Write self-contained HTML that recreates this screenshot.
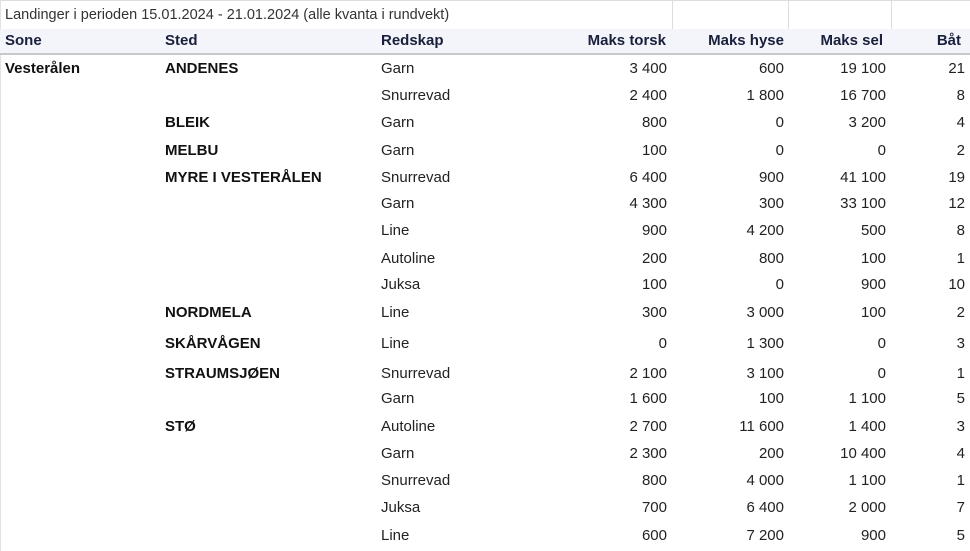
<!DOCTYPE html>
<html><head><meta charset="utf-8"><style>
html,body{margin:0;padding:0;background:#fff;}
body{width:970px;height:551px;position:relative;overflow:hidden;font-family:"Liberation Sans",sans-serif;color:#222;}
.t{position:absolute;white-space:nowrap;font-size:15px;line-height:18px;}
.r{text-align:right;}
.b{font-weight:bold;color:#111;}
.h{font-weight:bold;color:#1a1f3c;}
</style></head><body>
<div style="position:absolute;left:0;top:0;width:970px;height:1px;background:#ddd"></div>
<div style="position:absolute;left:0;top:0;width:1px;height:551px;background:#e2e2e2"></div>
<div style="position:absolute;left:672px;top:0;width:1px;height:29px;background:#ddd"></div>
<div style="position:absolute;left:788px;top:0;width:1px;height:29px;background:#ddd"></div>
<div style="position:absolute;left:891px;top:0;width:1px;height:29px;background:#ddd"></div>
<div style="position:absolute;left:0;top:29px;width:970px;height:24px;background:#f3f5fa"></div>
<div style="position:absolute;left:0;top:53px;width:970px;height:2px;background:#c8c8c8"></div>
<div class="t" style="left:5px;top:6px;font-size:14.5px;color:#333">Landinger i perioden 15.01.2024 - 21.01.2024 (alle kvanta i rundvekt)</div>
<div class="t h" style="left:5px;top:32px">Sone</div>
<div class="t h" style="left:165px;top:32px">Sted</div>
<div class="t h" style="left:381px;top:32px">Redskap</div>
<div class="t h r" style="right:304px;top:32px">Maks torsk</div>
<div class="t h r" style="right:186px;top:32px">Maks hyse</div>
<div class="t h r" style="right:87px;top:32px">Maks sel</div>
<div class="t h r" style="right:9px;top:32px">Båt</div>
<div id="rows"></div>
<div class="t b" style="left:5px;top:60px">Vesterålen</div>
<div class="t b" style="left:165px;top:60px">ANDENES</div>
<div class="t b" style="left:165px;top:114px">BLEIK</div>
<div class="t b" style="left:165px;top:142px">MELBU</div>
<div class="t b" style="left:165px;top:169px">MYRE I VESTERÅLEN</div>
<div class="t b" style="left:165px;top:304px">NORDMELA</div>
<div class="t b" style="left:165px;top:335px">SKÅRVÅGEN</div>
<div class="t b" style="left:165px;top:365px">STRAUMSJØEN</div>
<div class="t b" style="left:165px;top:418px">STØ</div>

<div class="t" style="left:381px;top:60px">Garn</div><div class="t r" style="right:303px;top:60px">3 400</div><div class="t r" style="right:186px;top:60px">600</div><div class="t r" style="right:84px;top:60px">19 100</div><div class="t r" style="right:5px;top:60px">21</div>
<div class="t" style="left:381px;top:87px">Snurrevad</div><div class="t r" style="right:303px;top:87px">2 400</div><div class="t r" style="right:186px;top:87px">1 800</div><div class="t r" style="right:84px;top:87px">16 700</div><div class="t r" style="right:5px;top:87px">8</div>
<div class="t" style="left:381px;top:114px">Garn</div><div class="t r" style="right:303px;top:114px">800</div><div class="t r" style="right:186px;top:114px">0</div><div class="t r" style="right:84px;top:114px">3 200</div><div class="t r" style="right:5px;top:114px">4</div>
<div class="t" style="left:381px;top:142px">Garn</div><div class="t r" style="right:303px;top:142px">100</div><div class="t r" style="right:186px;top:142px">0</div><div class="t r" style="right:84px;top:142px">0</div><div class="t r" style="right:5px;top:142px">2</div>
<div class="t" style="left:381px;top:169px">Snurrevad</div><div class="t r" style="right:303px;top:169px">6 400</div><div class="t r" style="right:186px;top:169px">900</div><div class="t r" style="right:84px;top:169px">41 100</div><div class="t r" style="right:5px;top:169px">19</div>
<div class="t" style="left:381px;top:195px">Garn</div><div class="t r" style="right:303px;top:195px">4 300</div><div class="t r" style="right:186px;top:195px">300</div><div class="t r" style="right:84px;top:195px">33 100</div><div class="t r" style="right:5px;top:195px">12</div>
<div class="t" style="left:381px;top:222px">Line</div><div class="t r" style="right:303px;top:222px">900</div><div class="t r" style="right:186px;top:222px">4 200</div><div class="t r" style="right:84px;top:222px">500</div><div class="t r" style="right:5px;top:222px">8</div>
<div class="t" style="left:381px;top:250px">Autoline</div><div class="t r" style="right:303px;top:250px">200</div><div class="t r" style="right:186px;top:250px">800</div><div class="t r" style="right:84px;top:250px">100</div><div class="t r" style="right:5px;top:250px">1</div>
<div class="t" style="left:381px;top:276px">Juksa</div><div class="t r" style="right:303px;top:276px">100</div><div class="t r" style="right:186px;top:276px">0</div><div class="t r" style="right:84px;top:276px">900</div><div class="t r" style="right:5px;top:276px">10</div>
<div class="t" style="left:381px;top:304px">Line</div><div class="t r" style="right:303px;top:304px">300</div><div class="t r" style="right:186px;top:304px">3 000</div><div class="t r" style="right:84px;top:304px">100</div><div class="t r" style="right:5px;top:304px">2</div>
<div class="t" style="left:381px;top:335px">Line</div><div class="t r" style="right:303px;top:335px">0</div><div class="t r" style="right:186px;top:335px">1 300</div><div class="t r" style="right:84px;top:335px">0</div><div class="t r" style="right:5px;top:335px">3</div>
<div class="t" style="left:381px;top:365px">Snurrevad</div><div class="t r" style="right:303px;top:365px">2 100</div><div class="t r" style="right:186px;top:365px">3 100</div><div class="t r" style="right:84px;top:365px">0</div><div class="t r" style="right:5px;top:365px">1</div>
<div class="t" style="left:381px;top:390px">Garn</div><div class="t r" style="right:303px;top:390px">1 600</div><div class="t r" style="right:186px;top:390px">100</div><div class="t r" style="right:84px;top:390px">1 100</div><div class="t r" style="right:5px;top:390px">5</div>
<div class="t" style="left:381px;top:418px">Autoline</div><div class="t r" style="right:303px;top:418px">2 700</div><div class="t r" style="right:186px;top:418px">11 600</div><div class="t r" style="right:84px;top:418px">1 400</div><div class="t r" style="right:5px;top:418px">3</div>
<div class="t" style="left:381px;top:445px">Garn</div><div class="t r" style="right:303px;top:445px">2 300</div><div class="t r" style="right:186px;top:445px">200</div><div class="t r" style="right:84px;top:445px">10 400</div><div class="t r" style="right:5px;top:445px">4</div>
<div class="t" style="left:381px;top:472px">Snurrevad</div><div class="t r" style="right:303px;top:472px">800</div><div class="t r" style="right:186px;top:472px">4 000</div><div class="t r" style="right:84px;top:472px">1 100</div><div class="t r" style="right:5px;top:472px">1</div>
<div class="t" style="left:381px;top:499px">Juksa</div><div class="t r" style="right:303px;top:499px">700</div><div class="t r" style="right:186px;top:499px">6 400</div><div class="t r" style="right:84px;top:499px">2 000</div><div class="t r" style="right:5px;top:499px">7</div>
<div class="t" style="left:381px;top:527px">Line</div><div class="t r" style="right:303px;top:527px">600</div><div class="t r" style="right:186px;top:527px">7 200</div><div class="t r" style="right:84px;top:527px">900</div><div class="t r" style="right:5px;top:527px">5</div>
</body></html>
